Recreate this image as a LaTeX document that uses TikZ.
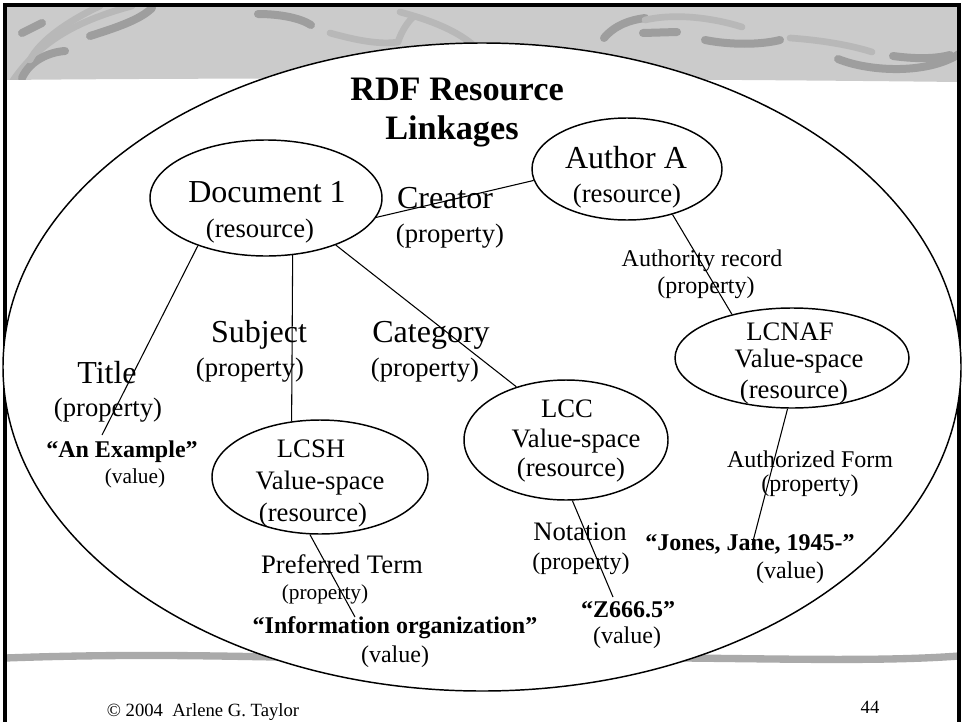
\documentclass[tikz,border=0pt]{standalone}
\usepackage{fontspec}
\setmainfont{Liberation Serif}
\usetikzlibrary{shapes.geometric}
\definecolor{band}{RGB}{203,203,203}
\definecolor{swoosh}{RGB}{158,158,158}
\definecolor{swooshlight}{RGB}{184,184,184}
\definecolor{stripe}{RGB}{170,170,170}
\newcommand{\fs}[1]{\fontsize{#1}{#1}\selectfont}
\begin{document}
\begin{tikzpicture}[x=0.75pt,y=-0.75pt,
  res/.style={ellipse, draw, line width=1.1pt, fill=white, inner sep=0pt},
  lbl/.style={anchor=base, inner sep=0pt},
  link/.style={line width=0.8pt},
  sw/.style={line width=6pt, line cap=round, draw=swoosh},
  swl/.style={line width=5pt, line cap=round, draw=swooshlight},
]
\useasboundingbox (0,0) rectangle (963,721);
\fill[white] (0,0) rectangle (963,721);
% top band
\begin{scope}
\path[clip] (5,5) -- (959,5) -- (959,82) .. controls (700,79) and (300,77) .. (5,80) -- cycle;
\fill[band] (0,0) rectangle (963,90);
\draw[swl] (12,82) .. controls (40,40) and (80,20) .. (132,6);
\draw[sw] (22,33) -- (42,23);
\draw[sw] (90,36) .. controls (115,28) and (140,20) .. (152,8);
\draw[sw] (22,78) .. controls (30,60) and (50,52) .. (65,51);
\draw[swl] (100,6) .. controls (70,20) and (40,40) .. (30,60);
\draw[sw] (258,14) .. controls (280,14) and (300,18) .. (311,25);
\draw[swl] (330,33) .. controls (355,40) and (380,45) .. (398,42);
\draw[swl] (398,42) .. controls (402,30) and (408,22) .. (413,17);
\draw[swl] (400,12) .. controls (430,20) and (455,30) .. (472,44);
\draw[sw] (604,38) .. controls (615,25) and (630,20) .. (645,18);
\draw[swl] (645,20) .. controls (680,12) and (720,20) .. (742,27);
\draw[sw] (643,33) -- (677,32);
\draw[sw] (705,40) .. controls (730,45) and (760,45) .. (780,40);
\draw[swl] (790,38) .. controls (820,40) and (850,45) .. (872,52);
\draw[sw] (838,59) .. controls (870,72) and (930,75) .. (962,52);
\draw[sw] (893,56) .. controls (915,59) and (935,59) .. (950,55);
\end{scope}
% bottom stripe
\draw[line width=5.5pt, stripe] (5,658) .. controls (200,651) and (300,661) .. (480,658) .. controls (700,655) and (850,664) .. (959,656);
% border
\draw[line width=2.3pt] (5,725) -- (5,5) -- (959,5) -- (959,725);
% big ellipse
\node[res, minimum width=718.5pt, minimum height=486pt] (frame) at (482,367) {};
% resources
\node[res, minimum width=174pt, minimum height=87pt] (doc) at (266,198) {};
\node[res, minimum width=142.5pt, minimum height=76.5pt] (author) at (627,169) {};
\node[res, minimum width=175.5pt, minimum height=75pt] (lcnaf) at (792,358) {};
\node[res, minimum width=153pt, minimum height=90pt] (lcc) at (566,440) {};
\node[res, minimum width=162pt, minimum height=85.5pt] (lcsh) at (320,477) {};
% free ends
\coordinate (titleend) at (102,435);
\coordinate (prefend) at (355,617);
\coordinate (notend) at (613,597);
\coordinate (authend) at (752,545);
% connectors
\draw[link] (doc.-10.9) -- (author.187.2);
\draw[link] (doc.-145.4) -- (titleend);
\draw[link] (doc.-65.3) -- (lcsh.117);
\draw[link] (doc.-34) -- (lcc.133.9);
\draw[link] (author.-45) -- (lcnaf.144.4);
\draw[link] (lcnaf.-95.7) -- (authend);
\draw[link] (lcc.-84.3) -- (notend);
\draw[link] (lcsh.-100) -- (prefend);
% texts
\node[lbl,font=\fs{25.7}\bfseries] (ttl1) at (457,100) {RDF Resource};
\node[lbl,font=\fs{25.7}\bfseries] (ttl2) at (452,139) {Linkages};
\node[lbl,font=\fs{24}] (docA) at (267,202) {Document 1};
\node[lbl,font=\fs{20}] (docB) at (260,237) {(resource)};
\node[lbl,font=\fs{24}] (creA) at (445,208) {Creator};
\node[lbl,font=\fs{20}] (creB) at (450,242) {(property)};
\node[lbl,font=\fs{24}] (autA) at (626,168) {Author A};
\node[lbl,font=\fs{20}] (autB) at (627,202) {(resource)};
\node[lbl,font=\fs{18}] (arA) at (702,266) {Authority record};
\node[lbl,font=\fs{18}] (arB) at (706,293) {(property)};
\node[lbl,font=\fs{20}] (nafA) at (790,340) {LCNAF};
\node[lbl,font=\fs{20}] (nafB) at (799,367) {Value-space};
\node[lbl,font=\fs{20}] (nafC) at (794,398) {(resource)};
\node[lbl,font=\fs{18}] (afA) at (810,467) {Authorized Form};
\node[lbl,font=\fs{18}] (afB) at (810,491) {(property)};
\node[lbl,font=\fs{18}\bfseries] (jonA) at (750,550) {“Jones, Jane, 1945-”};
\node[lbl,font=\fs{18}] (jonB) at (790,578) {(value)};
\node[lbl,font=\fs{20}] (lccA) at (567,417) {LCC};
\node[lbl,font=\fs{20}] (lccB) at (576,447) {Value-space};
\node[lbl,font=\fs{20}] (lccC) at (571,476) {(resource)};
\node[lbl,font=\fs{20}] (notA) at (580,540) {Notation};
\node[lbl,font=\fs{18}] (notB) at (581,569) {(property)};
\node[lbl,font=\fs{18}\bfseries] (zA) at (628,617) {“Z666.5”};
\node[lbl,font=\fs{18}] (zB) at (627,643) {(value)};
\node[lbl,font=\fs{20}] (shA) at (311,457) {LCSH};
\node[lbl,font=\fs{20}] (shB) at (320,489) {Value-space};
\node[lbl,font=\fs{20}] (shC) at (313,521) {(resource)};
\node[lbl,font=\fs{20}] (ptA) at (342,573) {Preferred Term};
\node[lbl,font=\fs{16}] (ptB) at (325,599) {(property)};
\node[lbl,font=\fs{18}\bfseries] (ioA) at (395,633) {“Information organization”};
\node[lbl,font=\fs{18}] (ioB) at (395,662) {(value)};
\node[lbl,font=\fs{24}] (tiA) at (107,383) {Title};
\node[lbl,font=\fs{20}] (tiB) at (108,416) {(property)};
\node[lbl,font=\fs{18}\bfseries] (exA) at (122,457) {“An Example”};
\node[lbl,font=\fs{16}] (exB) at (135,483) {(value)};
\node[lbl,font=\fs{24}] (suA) at (259,342) {Subject};
\node[lbl,font=\fs{20}] (suB) at (250,376) {(property)};
\node[lbl,font=\fs{24}] (caA) at (431,342) {Category};
\node[lbl,font=\fs{20}] (caB) at (425,376) {(property)};
\node[lbl,font=\fs{14}] (copy) at (203,716) {© 2004\ \ Arlene G. Taylor};
\node[lbl,font=\fs{14}] (page) at (870,713) {44};
\end{tikzpicture}
\end{document}
